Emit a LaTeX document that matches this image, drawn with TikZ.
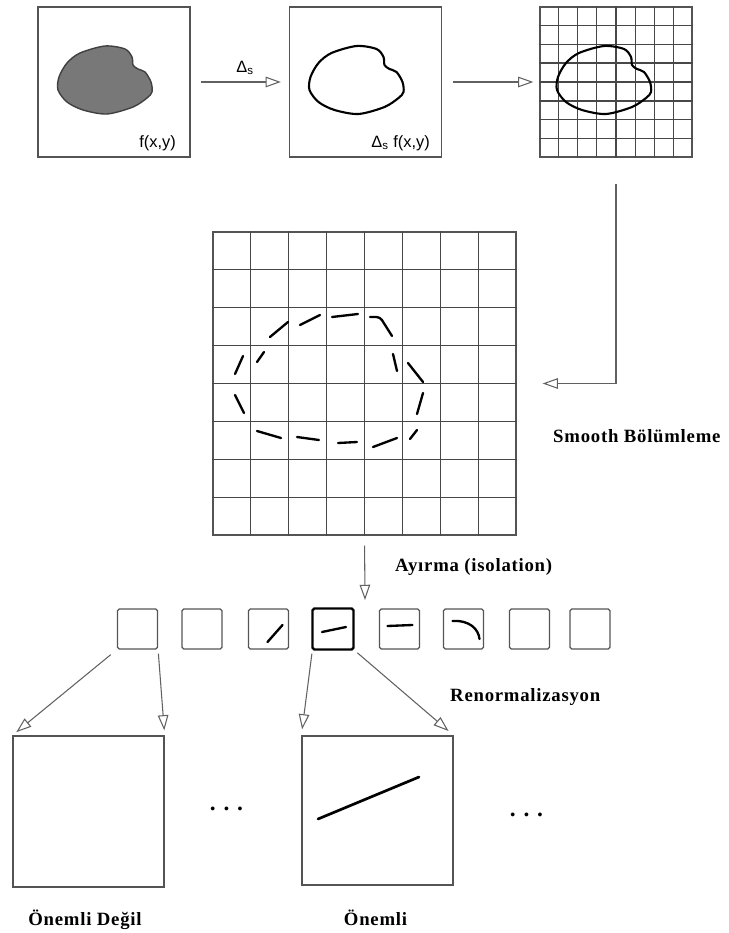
\documentclass[tikz,border=0pt]{standalone}
\usepackage{fontspec}
\setmainfont{Liberation Serif}
\setsansfont{Liberation Sans}
\usetikzlibrary{arrows.meta,calc}

\definecolor{framegray}{gray}{0.33}
\definecolor{gridgray}{gray}{0.28}
\definecolor{arrowgray}{gray}{0.38}
\definecolor{blobgray}{gray}{0.47}
\definecolor{blobedge}{gray}{0.25}

\newcommand{\blob}[2]{\draw[#1, shift={#2}] plot[smooth cycle, tension=0.5] coordinates {(-9,-36) (11,-33) (18,-25) (19,-17) (24,-13) (31,-10) (37,0) (38,10) (33,16) (19,25) (-7,32) (-31,28) (-47,20) (-56,8) (-55,-5) (-47,-19) (-34,-29)};}

\begin{document}
\begin{tikzpicture}[x=0.03cm, y=-0.03cm]
  \tikzset{
    panel/.style={draw=framegray, line width=1.1pt, minimum width=4.56cm, minimum height=4.5cm, inner sep=0pt},
    cell/.style={draw=framegray, line width=1pt, rounded corners=1.5pt, minimum size=1.2cm, inner sep=0pt},
    gridline/.style={draw=gridgray, line width=1.1pt},
    flow/.style={-{Triangle[open, length=13pt, width=9pt]}, draw=arrowgray, line width=0.9pt},
    stroke/.style={black, line width=2pt, line cap=round},
    remark/.style={font=\bfseries\fontsize{16}{19}\selectfont\addfontfeature{LetterSpace=4}, inner sep=0pt},
    formula/.style={font=\sffamily\fontsize{14}{16}\selectfont, inner sep=0pt}
  }
  \useasboundingbox (0,0) rectangle (728,933);

  \node[panel] (scene) at (114,82) {};
  \node[panel] (edges) at (365.5,82) {};
  \node[panel] (tiled) at (616,82) {};
  \node[panel, minimum width=9.09cm, minimum height=9.09cm] (lattice) at (364.5,383.5) {};

  \foreach \g in {tiled,lattice} {
    \foreach \k in {1,...,7} {
      \draw[gridline] ($(\g.north west)!\k/8!(\g.north east)$) -- ($(\g.south west)!\k/8!(\g.south east)$);
      \draw[gridline] ($(\g.north west)!\k/8!(\g.south west)$) -- ($(\g.north east)!\k/8!(\g.south east)$);
    }
  }

  \blob{fill=blobgray, draw=blobedge, line width=1.2pt}{(scene.center)}
  \blob{black, line width=1.8pt}{(edges.center)}
  \blob{black, line width=1.8pt}{($(tiled.center)+(-3,0)$)}

  \draw[stroke, rounded corners=3pt] (270,337) -- (288,322) (300,325) -- (320,315) (332,317) -- (358,314)
    (370,317) -- (380,317) -- (392,336) (393,354) -- (397,371) (408,363) -- (423,382)
    (423,393) -- (417,414) (417,430) -- (410,439) (373,447) -- (397,438) (338,443) -- (357,442)
    (297,437) -- (319,440) (257,431) -- (281,438) (235,395) -- (244,413) (235,374) -- (243,356)
    (257,362) -- (264,352);

  \foreach \x [count=\i] in {137.5,202,268.5,333,399.5,463.5,529.5,590}
    \node[cell] (c\i) at (\x,629) {};
  \draw[black, line width=1.8pt, rounded corners=1.5pt] (c4.south west) rectangle (c4.north east);
  \draw[stroke] ([shift={(-1,13)}]c3.center) -- ([shift={(14,-4)}]c3.center);
  \draw[stroke] ([shift={(-11,3)}]c4.center) -- ([shift={(13,-2)}]c4.center);
  \draw[stroke] ([shift={(-12,-3)}]c5.center) -- ([shift={(13,-4)}]c5.center);
  \draw[stroke] ([shift={(-11,-8)}]c6.center) .. controls ([shift={(6,-9)}]c6.center) and ([shift={(15,0)}]c6.center) .. ([shift={(16,10)}]c6.center);

  \node[panel, minimum width=4.53cm, minimum height=4.53cm] (dull) at (88.5,811.5) {};
  \node[panel, minimum width=4.53cm, minimum height=4.47cm] (keen) at (377.5,810.5) {};
  \draw[stroke, line width=2.3pt] ([shift={(-59.5,8.5)}]keen.center) -- ([shift={(41.5,-33.5)}]keen.center);

  \draw[flow, shorten <=0.3cm, shorten >=0.24cm] (scene) -- (edges);
  \draw[flow, shorten <=0.33cm, shorten >=0.18cm] (edges) -- (tiled);
  \draw[flow, shorten <=0.78cm, shorten >=0.78cm] (tiled.south) |- (lattice.east);
  \coordinate (drop) at (365,600);
  \draw[flow, shorten <=0.3cm] (lattice.south) -- (drop);
  \draw[flow, shorten <=0.24cm, shorten >=0.15cm] (c1.south west) -- (dull.north west);
  \draw[flow, shorten <=0.12cm, shorten >=0.15cm] (c1.south east) -- (dull.north east);
  \draw[flow, shorten <=0.12cm, shorten >=0.18cm] (c4.south west) -- (keen.north west);
  \draw[flow, shorten <=0.15cm, shorten >=0.2cm] (c4.south east) -- (keen.north east);

  \node[formula] (delta) at (245,68) {Δ\textsubscript{s}};
  \node[formula, anchor=east] (fxy) at (176,143) {f(x,y)};
  \node[formula, anchor=east] (dfxy) at (430,143) {Δ\textsubscript{s} f(x,y)};

  \node[remark, anchor=west] (smoothing) at (553,436) {Smooth Bölümleme};
  \node[remark, anchor=west] (isolating) at (395,567) {Ayırma (isolation)};
  \node[remark, anchor=west] (renorm) at (450,697) {Renormalizasyon};
  \node[remark] (minor) at (85,920) {Önemli Değil};
  \node[remark] (major) at (375.5,918) {Önemli};
  \node[remark, font=\bfseries\fontsize{20}{22}\selectfont, anchor=base] (gapa) at (226.5,810) {. . .};
  \node[remark, font=\bfseries\fontsize{20}{22}\selectfont, anchor=base] (gapb) at (526.5,816) {. . .};
\end{tikzpicture}
\end{document}
